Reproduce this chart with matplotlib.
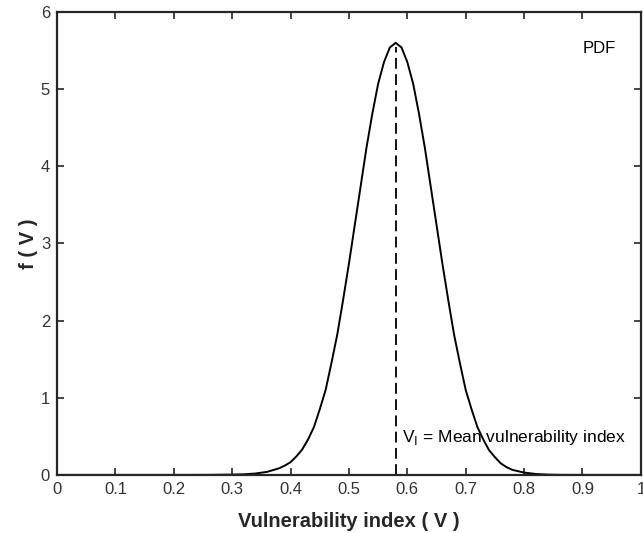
import matplotlib.pyplot as plt

plt.rcParams['font.family'] = ['Liberation Sans', 'DejaVu Sans']

# values
v = [0.0, 0.2, 0.26, 0.30, 0.32, 0.34, 0.36, 0.38, 0.39, 0.40, 0.41, 0.42, 0.43, 0.44,
     0.45, 0.46, 0.47, 0.48, 0.49, 0.50, 0.51, 0.52, 0.53, 0.54, 0.55, 0.56, 0.57,
     0.58, 0.59, 0.60, 0.61, 0.62, 0.63, 0.64, 0.65, 0.66, 0.67, 0.68, 0.69, 0.70,
     0.71, 0.72, 0.73, 0.74, 0.75, 0.76, 0.77, 0.78, 0.80, 0.82, 0.84, 0.86, 0.9, 1.0]
fv = [0.0, 0.0, 0.001, 0.004, 0.008, 0.018, 0.04, 0.085, 0.12, 0.165, 0.24, 0.33, 0.46, 0.62,
      0.85, 1.10, 1.45, 1.82, 2.27, 2.74, 3.24, 3.74, 4.24, 4.68, 5.07, 5.35, 5.54,
      5.60, 5.54, 5.35, 5.07, 4.68, 4.24, 3.74, 3.24, 2.74, 2.27, 1.82, 1.45, 1.10,
      0.85, 0.62, 0.46, 0.32, 0.23, 0.15, 0.10, 0.065, 0.03, 0.012, 0.004, 0.001, 0.0, 0.0]
v_mean = 0.58
f_mean = 5.55

fig = plt.figure(figsize=(6.43, 5.33), dpi=100)
ax = fig.add_axes([0.0887, 0.109, 0.908, 0.8685])

ax.plot(v, fv, color='black', lw=1.4)
ax.plot([v_mean, v_mean], [0, f_mean], color='black', lw=1.3, linestyle=(0, (6, 3)))

ax.text(0.59, 0.48, r'V$_{\rm I}$ = Mean vulnerability index', fontsize=12.5, va='center', ha='left')
ax.text(0.90, 5.53, 'PDF', fontsize=12, va='center', ha='left')

ax.set_xlim(0, 1)
ax.set_ylim(0, 6)
ax.set_xticks([0, 0.1, 0.2, 0.3, 0.4, 0.5, 0.6, 0.7, 0.8, 0.9, 1])
ax.set_xticklabels(['0', '0.1', '0.2', '0.3', '0.4', '0.5', '0.6', '0.7', '0.8', '0.9', '1'])
ax.set_yticks([0, 1, 2, 3, 4, 5, 6])
ax.tick_params(direction='in', top=True, right=True, length=5, width=1.2,
               labelsize=12, labelcolor='#333333', color='#262626', pad=5)
for s in ax.spines.values():
    s.set_linewidth(1.6)
    s.set_color('#262626')

ax.set_xlabel('Vulnerability index ( V )', fontsize=14.5, fontweight='bold', labelpad=11, color='#262626')
ax.set_ylabel('f ( V )', fontsize=14.5, fontweight='bold', labelpad=2, color='#262626')

fig.savefig('out.png', dpi=100)
